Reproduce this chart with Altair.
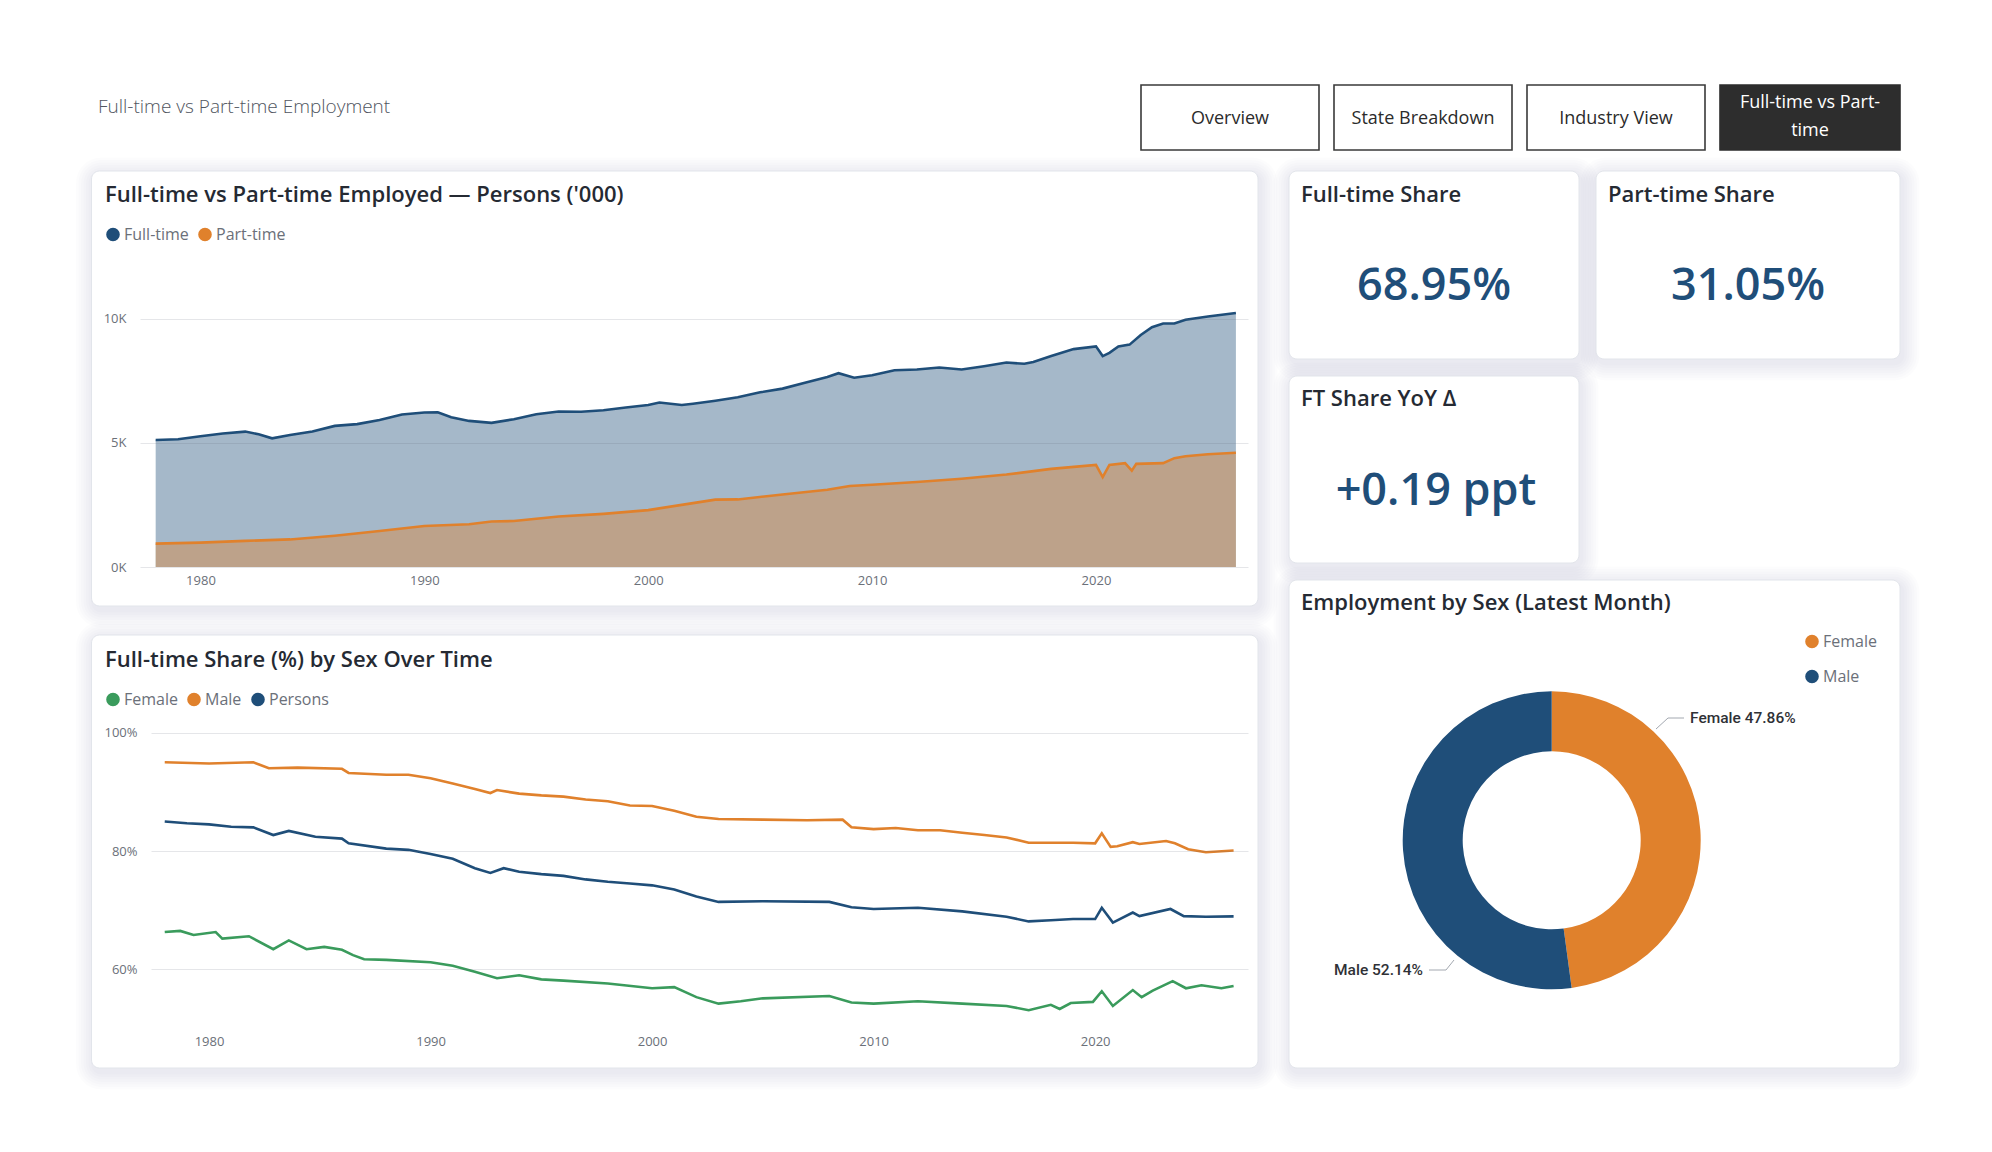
import altair as alt
import pandas as pd

W, H = 1992, 1152

# ---------------------------------------------------------------- data
# Employed persons ('000) by status, (year, value)
ft_employed = [
    (1978.0, 5110), (1979.0, 5140), (1980.0, 5260), (1981.0, 5370), (1982.0, 5450),
    (1982.6, 5340), (1983.2, 5180), (1984.0, 5310), (1985.0, 5450), (1986.0, 5680),
    (1987.0, 5750), (1988.0, 5920), (1989.0, 6140), (1990.0, 6220), (1990.6, 6230),
    (1991.2, 6030), (1992.0, 5880), (1993.0, 5800), (1994.0, 5950), (1995.0, 6150),
    (1996.0, 6260), (1997.0, 6250), (1998.0, 6310), (1999.0, 6420), (2000.0, 6520),
    (2000.5, 6620), (2001.5, 6520), (2002.0, 6570), (2003.0, 6690), (2004.0, 6830),
    (2005.0, 7030), (2006.0, 7180), (2007.0, 7420), (2008.0, 7650), (2008.5, 7800),
    (2009.2, 7620), (2010.0, 7720), (2011.0, 7920), (2012.0, 7950), (2013.0, 8030),
    (2014.0, 7950), (2015.0, 8080), (2016.0, 8230), (2016.8, 8180), (2017.2, 8250),
    (2018.0, 8490), (2019.0, 8770), (2020.0, 8880), (2020.3, 8490), (2020.6, 8620),
    (2021.0, 8880), (2021.5, 8950), (2022.0, 9340), (2022.5, 9650), (2023.0, 9800),
    (2023.5, 9800), (2024.0, 9950), (2025.0, 10080), (2026.25, 10220),
]
pt_employed = [
    (1978.0, 940), (1980.0, 980), (1982.0, 1050), (1984.0, 1110), (1986.0, 1260),
    (1988.0, 1450), (1990.0, 1650), (1992.0, 1720), (1993.0, 1830), (1994.0, 1850),
    (1996.0, 2030), (1998.0, 2140), (2000.0, 2290), (2002.0, 2570), (2003.0, 2710),
    (2004.0, 2720), (2006.0, 2920), (2008.0, 3110), (2009.0, 3260), (2010.0, 3310),
    (2012.0, 3420), (2014.0, 3550), (2016.0, 3720), (2018.0, 3950), (2020.0, 4110),
    (2020.3, 3620), (2020.6, 4110), (2021.3, 4180), (2021.6, 3880), (2021.8, 4150),
    (2023.0, 4180), (2023.5, 4380), (2024.0, 4460), (2025.0, 4540), (2026.25, 4600),
]

# Full-time share of employment (%) by sex, (year, value)
female_ft_share = [
    (1978.0, 66.3), (1978.7, 66.5), (1979.3, 65.8), (1980.3, 66.3), (1980.6, 65.2),
    (1981.8, 65.6), (1982.9, 63.4), (1983.6, 64.9), (1984.4, 63.4), (1985.2, 63.8),
    (1986.0, 63.3), (1986.5, 62.4), (1987.0, 61.7), (1988.0, 61.6), (1990.0, 61.2),
    (1991.0, 60.6), (1992.0, 59.6), (1993.0, 58.5), (1994.0, 59.0), (1995.0, 58.3),
    (1996.0, 58.1), (1998.0, 57.6), (2000.0, 56.8), (2001.0, 57.0), (2002.0, 55.3),
    (2003.0, 54.2), (2004.0, 54.6), (2005.0, 55.1), (2008.0, 55.5), (2009.0, 54.4),
    (2010.0, 54.2), (2012.0, 54.6), (2014.0, 54.2), (2016.0, 53.8), (2017.0, 53.1),
    (2018.0, 54.0), (2018.4, 53.3), (2018.9, 54.3), (2019.9, 54.5), (2020.3, 56.3),
    (2020.8, 53.8), (2021.7, 56.5), (2022.1, 55.3), (2022.6, 56.4), (2023.5, 58.0),
    (2024.1, 56.8), (2024.8, 57.3), (2025.7, 56.8), (2026.25, 57.2),
]
male_ft_share = [
    (1978.0, 95.0), (1980.0, 94.8), (1982.0, 95.0), (1982.7, 94.0), (1984.0, 94.1),
    (1986.0, 93.9), (1986.3, 93.2), (1988.0, 92.9), (1989.0, 92.9), (1990.0, 92.3),
    (1991.0, 91.4), (1992.0, 90.5), (1992.7, 89.8), (1993.0, 90.3), (1994.0, 89.7),
    (1995.0, 89.4), (1996.0, 89.2), (1997.0, 88.7), (1998.0, 88.4), (1999.0, 87.7),
    (2000.0, 87.6), (2001.0, 86.8), (2002.0, 85.8), (2003.0, 85.4), (2005.0, 85.3),
    (2007.0, 85.2), (2008.6, 85.3), (2009.0, 84.0), (2010.0, 83.7), (2011.0, 83.9),
    (2012.0, 83.5), (2013.0, 83.5), (2014.0, 83.1), (2015.0, 82.7), (2016.0, 82.3),
    (2017.0, 81.4), (2018.0, 81.4), (2019.0, 81.4), (2020.0, 81.3), (2020.3, 83.0),
    (2020.7, 80.7), (2021.0, 80.8), (2021.7, 81.5), (2022.0, 81.2), (2023.2, 81.7),
    (2023.6, 81.3), (2024.2, 80.3), (2025.0, 79.8), (2026.25, 80.1),
]
persons_ft_share = [
    (1978.0, 85.0), (1979.0, 84.7), (1980.0, 84.5), (1981.0, 84.1), (1982.0, 84.0),
    (1982.9, 82.7), (1983.6, 83.4), (1984.8, 82.4), (1986.0, 82.1), (1986.3, 81.3),
    (1988.0, 80.4), (1989.0, 80.2), (1990.0, 79.5), (1991.0, 78.7), (1992.0, 77.1),
    (1992.7, 76.3), (1993.3, 77.1), (1994.0, 76.5), (1995.0, 76.1), (1996.0, 75.8),
    (1997.0, 75.2), (1998.0, 74.8), (1999.0, 74.5), (2000.0, 74.2), (2001.0, 73.5),
    (2002.0, 72.3), (2003.0, 71.4), (2005.0, 71.5), (2008.0, 71.4), (2009.0, 70.5),
    (2010.0, 70.2), (2012.0, 70.4), (2014.0, 69.8), (2016.0, 68.9), (2017.0, 68.1),
    (2018.0, 68.3), (2019.0, 68.5), (2020.0, 68.5), (2020.3, 70.4), (2020.8, 67.9),
    (2021.7, 69.6), (2022.0, 69.0), (2023.4, 70.2), (2024.0, 69.0), (2025.0, 68.9),
    (2026.25, 68.95),
]

# Latest month
sex_categories = ["Female", "Male"]
sex_employment_share = [47.86, 52.14]
ft_share_latest = 68.95
pt_share_latest = 31.05
ft_share_yoy_change = 0.19

year_ticks = [1980, 1990, 2000, 2010, 2020]
employed_ticks = [0, 5000, 10000]
share_ticks = [60, 80, 100]
nav_buttons = ["Overview", "State Breakdown", "Industry View", "Full-time vs Part-time"]

# ---------------------------------------------------------------- tables
emp = pd.DataFrame(
    [(y, v, "Full-time") for y, v in ft_employed]
    + [(y, v, "Part-time") for y, v in pt_employed],
    columns=["year", "persons", "status"],
)
share = pd.DataFrame(
    [(y, v, "Female") for y, v in female_ft_share]
    + [(y, v, "Male") for y, v in male_ft_share]
    + [(y, v, "Persons") for y, v in persons_ft_share],
    columns=["year", "share", "sex"],
)
sex_df = pd.DataFrame({"sex": sex_categories, "share": sex_employment_share})

# ---------------------------------------------------------------- style
FONT = "Open Sans"
BLUE = "#1f4e79"
ORANGE = "#e0812c"
GREEN = "#3a9b5c"
INK = "#252a33"
MUTED = "#6b7079"
TITLE_SIZE = 22
SYMBOL = 185

col_status = alt.Scale(domain=["Full-time", "Part-time"], range=[BLUE, ORANGE])
col_share = alt.Scale(domain=["Female", "Male", "Persons"], range=[GREEN, ORANGE, BLUE])
col_sex = alt.Scale(domain=sex_categories, range=[ORANGE, BLUE])

# Scales place each panel's plot area on the page canvas
XT = alt.Scale(domain=[1977.30, 2026.79], range=[140, 1248], nice=False, zero=False)
YT = alt.Scale(domain=[0, 11000], range=[567, 293.7], nice=False, zero=False)
XB = alt.Scale(domain=[1977.38, 2026.90], range=[151, 1248], nice=False, zero=False)
YB = alt.Scale(domain=[50, 100], range=[1028.5, 732.7], nice=False, zero=False)


def x_axis(axis_y):
    return alt.Axis(orient="bottom", offset=axis_y - H, values=year_ticks, format="d",
                    title=None, grid=False, domain=False, ticks=False, tickSize=0,
                    labelPadding=7, labelFont=FONT, labelFontSize=13, labelColor=MUTED,
                    labelFlush=False, zindex=2)


def y_axis(axis_x, values, expr):
    return alt.Axis(orient="left", offset=-axis_x, values=values, labelExpr=expr,
                    title=None, grid=True, gridColor="#5b6577", gridOpacity=0.16,
                    gridWidth=1.2, domain=False, ticks=False, tickSize=0,
                    labelPadding=14, labelFont=FONT, labelFontSize=13,
                    labelColor=MUTED, zindex=2)


def legend_at(lx, ly, direction, row_pad=0):
    return alt.Legend(orient="none", legendX=lx, legendY=ly, direction=direction,
                      title=None, symbolType="circle", symbolSize=SYMBOL,
                      symbolStrokeWidth=0, symbolOpacity=1, labelFont=FONT,
                      labelFontSize=16, labelColor=MUTED, labelOffset=3,
                      columnPadding=8, rowPadding=row_pad, padding=0, zindex=2)


def box(x0, y0, x1, y1, **style):
    return alt.Chart().mark_rect(**style).encode(
        x=alt.value(x0), x2=alt.value(x1), y=alt.value(y0), y2=alt.value(y1))


def text(t, x, y, size, color=INK, weight="normal", align="left", font=FONT, **kw):
    return alt.Chart().mark_text(
        align=align, baseline="alphabetic", font=font, fontSize=size,
        fontWeight=weight, color=color, **kw,
    ).encode(x=alt.value(x), y=alt.value(y), text=alt.value(t))


def segment(x0, y0, x1, y1):
    return alt.Chart().mark_rule(color="#a3a8b0", strokeWidth=1).encode(
        x=alt.value(x0), y=alt.value(y0), x2=alt.value(x1), y2=alt.value(y1))


# ---------------------------------------------------------------- page chrome
cards = [
    (91.5, 171, 1258, 606),     # employed area chart
    (91.5, 635, 1258, 1068),    # share-by-sex lines
    (1289, 171, 1579, 359),     # full-time share
    (1596, 171, 1900, 359),     # part-time share
    (1289, 376, 1579, 563),     # yoy change
    (1289, 580, 1900, 1068),    # donut
]
chrome = []
for (x0, y0, x1, y1) in cards:
    for i in range(1, 8):
        g = 2.5 * i
        chrome.append(box(x0 - g + 2, y0 - g + 4, x1 + g + 2, y1 + g + 4,
                          fill="#1c2333", opacity=0.012, cornerRadius=8 + g))
for (x0, y0, x1, y1) in cards:
    chrome.append(box(x0, y0, x1, y1, fill="#ffffff", stroke="#e2e5eb",
                      strokeWidth=1, cornerRadius=8))

button_boxes = [(1141, 85, 1319, 150), (1334, 85, 1512, 150),
                (1527, 85, 1705, 150), (1720, 85, 1900, 150)]
for i, (label, (x0, y0, x1, y1)) in enumerate(zip(nav_buttons, button_boxes)):
    cx = (x0 + x1) / 2
    if i < 3:
        chrome.append(box(x0, y0, x1, y1, fill="#ffffff", stroke="#3a3a3a", strokeWidth=1.6))
        chrome.append(text(label, cx, 124, 18, color="#2b2b2b", align="center"))
    else:
        chrome.append(box(x0, y0, x1, y1, fill="#2d2d2d", stroke="#2d2d2d", strokeWidth=1.6))
        head, tail = label.split("Part-")
        chrome.append(text(head + "Part-", cx, 108, 18, color="#ffffff", align="center"))
        chrome.append(text(tail, cx, 136, 18, color="#ffffff", align="center"))

titles = [
    text("Full-time vs Part-time Employment", 98, 112.5, 19, color="#505560", weight=300),
    text("Full-time vs Part-time Employed — Persons ('000)", 105, 201.5, TITLE_SIZE, weight=600),
    text("Full-time Share (%) by Sex Over Time", 105, 666.5, TITLE_SIZE, weight=600),
    text("Full-time Share", 1301, 201.5, TITLE_SIZE, weight=600),
    text("Part-time Share", 1608, 201.5, TITLE_SIZE, weight=600),
    text("FT Share YoY Δ", 1301, 405.5, TITLE_SIZE, weight=600),
    text("Employment by Sex (Latest Month)", 1301, 610, TITLE_SIZE, weight=600),
]

kpis = [
    text(f"{ft_share_latest:.2f}%", 1434, 299.5, 45, color=BLUE, weight=600, align="center"),
    text(f"{pt_share_latest:.2f}%", 1748, 299.5, 45, color=BLUE, weight=600, align="center"),
    text(f"{ft_share_yoy_change:+.2f} ppt", 1436, 505, 45, color=BLUE, weight=600, align="center"),
]

# ---------------------------------------------------------------- employed (area)
top_area = alt.Chart(emp).mark_area(opacity=0.4).encode(
    x=alt.X("year:Q", scale=XT, axis=x_axis(567)),
    y=alt.Y("persons:Q", scale=YT, stack=False,
            axis=y_axis(140, employed_ticks, "datum.value / 1000 + 'K'")),
    color=alt.Color("status:N", scale=col_status, legend=None),
)
top_line = alt.Chart(emp).mark_line(strokeWidth=2.6).encode(
    x=alt.X("year:Q", scale=XT, axis=None),
    y=alt.Y("persons:Q", scale=YT, axis=None),
    color=alt.Color("status:N", scale=col_status, legend=None),
)
top_legend = alt.Chart(emp).transform_filter("false").mark_circle(opacity=1, size=SYMBOL).encode(
    color=alt.Color("status:N", scale=col_status, legend=legend_at(105, 226.5, "horizontal")),
)

# ---------------------------------------------------------------- share by sex (lines)
share_lines = alt.Chart(share).mark_line(strokeWidth=2.6).encode(
    x=alt.X("year:Q", scale=XB, axis=x_axis(1028.5)),
    y=alt.Y("share:Q", scale=YB, axis=y_axis(151, share_ticks, "datum.value + '%'")),
    color=alt.Color("sex:N", scale=col_share, legend=None),
)
share_legend = alt.Chart(share).transform_filter("false").mark_circle(opacity=1, size=SYMBOL).encode(
    color=alt.Color("sex:N", scale=col_share, legend=legend_at(105, 691.5, "horizontal")),
)

# ---------------------------------------------------------------- donut
donut = alt.Chart(sex_df).mark_arc(radius=149, innerRadius=89).encode(
    theta=alt.Theta("share:Q", stack=True),
    color=alt.Color("sex:N", scale=col_sex, legend=legend_at(1804, 633.5, "vertical", 19)),
    x=alt.value(1551.7),
    y=alt.value(840.3),
)
donut_labels = [
    segment(1656, 729, 1668, 718), segment(1668, 718, 1684, 718),
    text(f"{sex_categories[0]} {sex_employment_share[0]:.2f}%", 1690, 723, 15.5,
         color="#2f3136", weight=500, font="Roboto"),
    segment(1454, 960, 1446, 970), segment(1446, 970, 1429, 970),
    text(f"{sex_categories[1]} {sex_employment_share[1]:.2f}%", 1423, 975, 15.5,
         color="#2f3136", weight=500, font="Roboto", align="right"),
]

layers = (chrome + titles
          + [top_area, top_line, top_legend, share_lines, share_legend, donut]
          + donut_labels + kpis)

chart = alt.layer(*layers).resolve_scale(
    x="independent", y="independent", color="independent", theta="independent"
).properties(
    width=W, height=H, padding=0, autosize=alt.AutoSizeParams(type="none"),
).configure(
    background="#ffffff", font=FONT,
).configure_view(stroke="transparent")

chart.save("out.html", embed_options={"renderer": "svg", "actions": False})
